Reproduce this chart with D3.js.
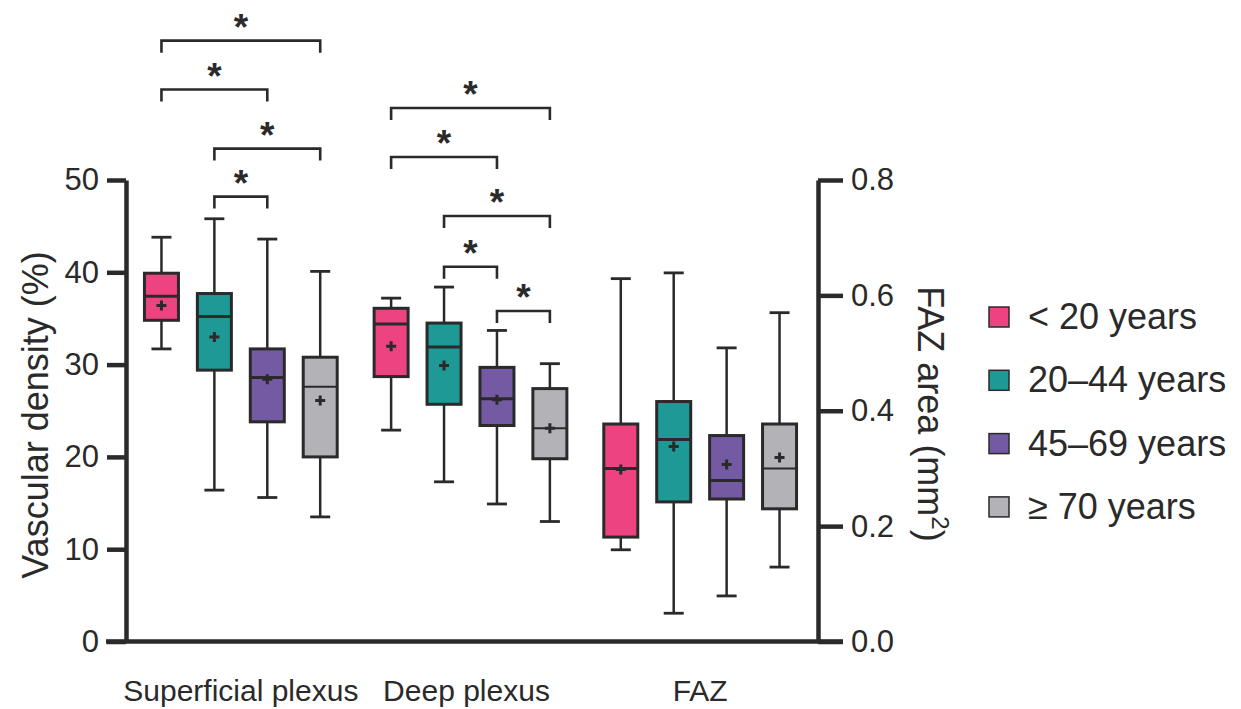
<!DOCTYPE html>
<html>
<head>
<meta charset="utf-8">
<script src="https://cdn.jsdelivr.net/npm/d3@7"></script>
<style>
  body { margin: 0; background: #fff; }
  text { font-family: "Liberation Sans", Arial, sans-serif; fill: #2a2a2a; }
</style>
</head>
<body>
<script>
//Width and height
var w = 1241;
var h = 709;

//Categories
var groups = ["Superficial plexus", "Deep plexus", "FAZ"];
var ages = ["< 20 years", "20–44 years", "45–69 years", "≥ 70 years"];
var colors = ["#ee4381", "#1f9995", "#7459a3", "#b3b3b7"];

//Box values: [min, q1, median, q3, max, mean]
var superficial = [
  [31.7, 34.8, 37.4, 39.9, 43.8, 36.4],
  [16.4, 29.4, 35.2, 37.7, 45.8, 33.0],
  [15.6, 23.8, 28.6, 31.7, 43.6, 28.4],
  [13.5, 20.0, 27.6, 30.8, 40.1, 26.1]
];
var deep = [
  [22.9, 28.7, 34.4, 36.1, 37.2, 32.0],
  [17.3, 25.7, 31.9, 34.5, 38.4, 29.9],
  [14.9, 23.4, 26.3, 29.7, 33.7, 26.2],
  [13.0, 19.8, 23.1, 27.4, 30.1, 23.1]
];
//FAZ area, mm2 (right axis)
var faz = [
  [0.159, 0.181, 0.300, 0.377, 0.629, 0.298],
  [0.049, 0.242, 0.350, 0.416, 0.639, 0.338],
  [0.079, 0.247, 0.279, 0.357, 0.509, 0.307],
  [0.129, 0.230, 0.300, 0.377, 0.570, 0.319]
];

//Significance brackets: [group, fromAge, toAge, level in %]
var brackets = [
  [0, 0, 3, 65.1],
  [0, 0, 2, 59.8],
  [0, 1, 3, 53.4],
  [0, 1, 2, 48.2],
  [1, 0, 3, 57.8],
  [1, 0, 2, 52.5],
  [1, 1, 3, 46.1],
  [1, 1, 2, 40.6],
  [1, 2, 3, 35.8]
];

var leftTicks = [0, 10, 20, 30, 40, 50];
var rightTicks = [0, 0.2, 0.4, 0.6, 0.8];

var ink = "#2a2a2a";

//Scales
var yScale = d3.scaleLinear().domain([0, 50]).range([641.5, 180]);
var y2Scale = d3.scaleLinear().domain([0, 0.8]).range([641.5, 180]);
var xScale = d3.scaleBand().domain(groups).range([126, 815]);
var subScale = d3.scaleBand().domain(ages).range([0, xScale.bandwidth()]).paddingOuter(0.17);
var boxW = 34;
var capW = 20;

var svg = d3.select("body").append("svg").attr("width", w).attr("height", h);

//Bottom baseline
svg.append("line")
  .attr("x1", 106).attr("x2", 843)
  .attr("y1", yScale(0)).attr("y2", yScale(0))
  .attr("stroke", ink).attr("stroke-width", 4.5);

//Axes
var yAxis = d3.axisLeft(yScale).tickValues(leftTicks).tickSize(19).tickSizeOuter(0).tickPadding(8);
var y2Axis = d3.axisRight(y2Scale).tickValues(rightTicks).tickFormat(d3.format(".1f")).tickSize(25).tickSizeOuter(0).tickPadding(8);

var gl = svg.append("g").attr("transform", "translate(126,0)").call(yAxis);
var gr = svg.append("g").attr("transform", "translate(818,0)").call(y2Axis);
[gl, gr].forEach(function (g) {
  g.select(".domain").attr("stroke", ink).attr("stroke-width", 4.5);
  g.selectAll(".tick line").attr("stroke", ink).attr("stroke-width", 4.5);
  g.selectAll(".tick text").attr("fill", ink).style("font-size", "31px")
    .style("font-family", "'Liberation Sans', Arial, sans-serif");
});

//Axis titles
svg.append("text")
  .attr("transform", "translate(48,415) rotate(-90)")
  .attr("text-anchor", "middle")
  .style("font-size", "36px")
  .text("Vascular density (%)");

var rt = svg.append("text")
  .attr("transform", "translate(918,414) rotate(90)")
  .attr("text-anchor", "middle")
  .style("font-size", "36px");
rt.append("tspan").text("FAZ area (mm");
rt.append("tspan").attr("dy", -14).style("font-size", "24px").text("2");
rt.append("tspan").attr("dy", 14).text(")");

//Group labels
svg.selectAll(".glabel")
  .data(groups)
  .enter()
  .append("text")
  .attr("class", "glabel")
  .attr("x", function (d) { return xScale(d) + xScale.bandwidth() / 2 - (d == "Deep plexus" ? 4 : 0); })
  .attr("y", 701)
  .attr("text-anchor", "middle")
  .style("font-size", "30px")
  .text(function (d) { return d; });

//Boxes
var sets = [superficial, deep, faz];
var scales = [yScale, yScale, y2Scale];

sets.forEach(function (set, gi) {
  var ys = scales[gi];
  var g = svg.append("g").attr("transform", "translate(" + xScale(groups[gi]) + ",0)");
  var box = g.selectAll(".box")
    .data(set)
    .enter()
    .append("g")
    .attr("transform", function (d, i) { return "translate(" + (subScale(ages[i]) + subScale.bandwidth() / 2) + ",0)"; });

  //Whiskers
  box.append("line")
    .attr("x1", 0).attr("x2", 0)
    .attr("y1", function (d) { return ys(d[0]); })
    .attr("y2", function (d) { return ys(d[4]); })
    .attr("stroke", ink).attr("stroke-width", 2.5);

  box.append("line")
    .attr("x1", -capW / 2).attr("x2", capW / 2)
    .attr("y1", function (d) { return ys(d[0]); })
    .attr("y2", function (d) { return ys(d[0]); })
    .attr("stroke", ink).attr("stroke-width", 2.8);

  box.append("line")
    .attr("x1", -capW / 2).attr("x2", capW / 2)
    .attr("y1", function (d) { return ys(d[4]); })
    .attr("y2", function (d) { return ys(d[4]); })
    .attr("stroke", ink).attr("stroke-width", 2.8);

  //Box
  box.append("rect")
    .attr("x", -boxW / 2)
    .attr("width", boxW)
    .attr("y", function (d) { return ys(d[3]); })
    .attr("height", function (d) { return ys(d[1]) - ys(d[3]); })
    .attr("fill", function (d, i) { return colors[i]; })
    .attr("stroke", ink).attr("stroke-width", 3);

  //Median
  box.append("line")
    .attr("x1", -boxW / 2).attr("x2", boxW / 2)
    .attr("y1", function (d) { return ys(d[2]); })
    .attr("y2", function (d) { return ys(d[2]); })
    .attr("stroke", ink).attr("stroke-width", function (d, i) { return i == 3 ? 2 : 3; });

  //Mean +
  box.append("path")
    .attr("d", function (d) {
      var y = ys(d[5]);
      return "M-5," + y + "H5M0," + (y - 5) + "V" + (y + 5);
    })
    .attr("stroke", ink).attr("stroke-width", 3);
});

//Significance brackets
var leg = 12;
brackets.forEach(function (b) {
  var x0 = xScale(groups[b[0]]) + subScale(ages[b[1]]) + subScale.bandwidth() / 2;
  var x1 = xScale(groups[b[0]]) + subScale(ages[b[2]]) + subScale.bandwidth() / 2;
  var y = yScale(b[3]);
  svg.append("path")
    .attr("d", "M" + x0 + "," + (y + leg) + "V" + y + "H" + x1 + "V" + (y + leg))
    .attr("fill", "none")
    .attr("stroke", ink).attr("stroke-width", 2.6);
  svg.append("text")
    .attr("x", (x0 + x1) / 2)
    .attr("y", y - 1)
    .attr("text-anchor", "middle")
    .style("font-size", "37px")
    .style("font-weight", "bold")
    .text("*");
});

//Legend
var legend = svg.selectAll(".legend")
  .data(ages)
  .enter()
  .append("g")
  .attr("transform", function (d, i) { return "translate(989," + (317 + i * 63.3) + ")"; });

legend.append("rect")
  .attr("x", 0).attr("y", -10)
  .attr("width", 20).attr("height", 20)
  .attr("fill", function (d, i) { return colors[i]; })
  .attr("stroke", ink).attr("stroke-width", 1.5);

legend.append("text")
  .attr("x", 39)
  .attr("y", 12)
  .style("font-size", "36px")
  .text(function (d) { return d; });
</script>
</body>
</html>
